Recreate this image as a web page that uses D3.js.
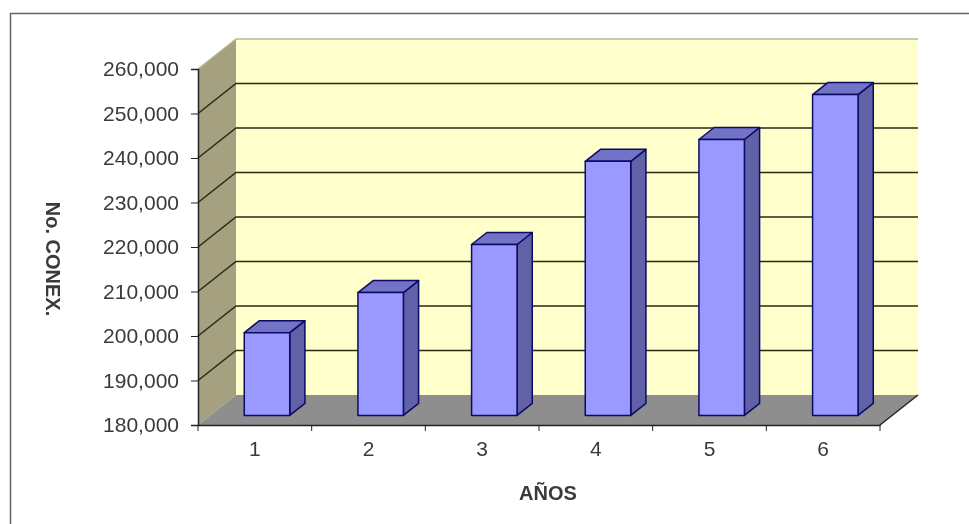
<!DOCTYPE html>
<html>
<head>
<meta charset="utf-8">
<script src="https://cdnjs.cloudflare.com/ajax/libs/d3/7.8.5/d3.min.js"></script>
<style>
  html, body { margin: 0; padding: 0; background: #fff; }
  text { font-family: "Liberation Sans", Arial, sans-serif; fill: #3a3a3a; }
  svg { display: block; filter: blur(0.45px); }
</style>
</head>
<body>
<div id="chart"></div>
<script>
const years = ["1", "2", "3", "4", "5", "6"];
const connections = [198600, 207600, 218400, 237100, 242000, 252100];
const yTicks = [180000, 190000, 200000, 210000, 220000, 230000, 240000, 250000, 260000];

const width = 969;
const height = 524;

// depth of the 3d box, in pixels
const depthX = 38;
const depthY = 30;
// front and back of a bar, as a share of the box depth
const barFront = 0.32;
const barBack = 0.72;

const svg = d3.select("#chart").append("svg")
    .attr("width", width)
    .attr("height", height);

const x = d3.scaleBand().domain(years).range([198, 880]).paddingInner(0.6).paddingOuter(0.3);
const y = d3.scaleLinear().domain([180000, 260000]).range([425, 69]);
const [yMin, yMax] = y.domain();
const [xMin, xMax] = x.range();

// px, py are front plane pixels, d is depth from 0 (front) to 1 (back)
const pt = (px, py, d) => [px + depthX * d, py - depthY * d];
const poly = pts => "M" + pts.map(p => p.join(",")).join("L") + "Z";

// outer frame, only top and left show in the picture
svg.append("path")
    .attr("d", `M10.5,${height}V13.5H${width}`)
    .attr("fill", "none")
    .attr("stroke", "#666")
    .attr("stroke-width", 1.5);

// walls and floor
svg.append("path")
    .attr("d", poly([pt(xMin, y(yMin), 1), pt(xMax, y(yMin), 1), pt(xMax, y(yMax), 1), pt(xMin, y(yMax), 1)]))
    .attr("fill", "#ffffcc");

svg.append("path")
    .attr("d", poly([pt(xMin, y(yMin), 0), pt(xMin, y(yMin), 1), pt(xMin, y(yMax), 1), pt(xMin, y(yMax), 0)]))
    .attr("fill", "#a5a07f");

svg.append("path")
    .attr("d", poly([pt(xMin, y(yMin), 0), pt(xMax, y(yMin), 0), pt(xMax, y(yMin), 1), pt(xMin, y(yMin), 1)]))
    .attr("fill", "#8e8e8e");

// gridlines run over the side wall and then the back wall
svg.append("g").selectAll("path")
  .data(yTicks.filter(d => d > yMin))
  .join("path")
    .attr("d", d => "M" + [pt(xMin, y(d), 0), pt(xMin, y(d), 1), pt(xMax, y(d), 1)].map(p => p.join(",")).join("L"))
    .attr("fill", "none")
    .attr("stroke", d => d === yMax ? "#b9b894" : "#2a2a14")
    .attr("stroke-width", 1.5);

svg.append("path")
    .attr("d", "M" + pt(xMax, y(yMin), 0).join(",") + "L" + pt(xMax, y(yMin), 1).join(","))
    .attr("stroke", "#222")
    .attr("stroke-width", 1.5);

// bars
const bar = svg.append("g").selectAll("g")
  .data(years.map((year, i) => ({ year, value: connections[i] })))
  .join("g")
    .attr("stroke", "#0b0b66")
    .attr("stroke-width", 1.5)
    .attr("stroke-linejoin", "round");

const x0 = d => x(d.year);
const x1 = d => x(d.year) + x.bandwidth();

bar.append("path")
    .attr("fill", "#6161a8")
    .attr("d", d => poly([pt(x1(d), y(yMin), barFront), pt(x1(d), y(yMin), barBack), pt(x1(d), y(d.value), barBack), pt(x1(d), y(d.value), barFront)]));

bar.append("path")
    .attr("fill", "#7272c6")
    .attr("d", d => poly([pt(x0(d), y(d.value), barFront), pt(x1(d), y(d.value), barFront), pt(x1(d), y(d.value), barBack), pt(x0(d), y(d.value), barBack)]));

bar.append("path")
    .attr("fill", "#9999ff")
    .attr("d", d => poly([pt(x0(d), y(yMin), barFront), pt(x1(d), y(yMin), barFront), pt(x1(d), y(d.value), barFront), pt(x0(d), y(d.value), barFront)]));

// axes
const yAxis = svg.append("g")
    .attr("transform", `translate(${xMin},0)`)
    .call(d3.axisLeft(y).tickValues(yTicks).tickFormat(d3.format(",")).tickSize(7).tickPadding(12));
yAxis.selectAll("text").attr("font-size", 21).attr("font-family", null);

const xAxis = svg.append("g")
    .attr("transform", `translate(0,${y(yMin)})`)
    .call(d3.axisBottom(x).tickSize(0).tickPadding(16));
xAxis.selectAll("text").attr("font-size", 21).attr("font-family", null);

// x ticks sit between the categories
xAxis.selectAll(".edge")
  .data(d3.range(years.length + 1))
  .join("line")
    .attr("class", "edge")
    .attr("x1", i => xMin + i * x.step())
    .attr("x2", i => xMin + i * x.step())
    .attr("y2", 6)
    .attr("stroke", "#222");

svg.selectAll(".domain").attr("stroke", "#222").attr("stroke-width", 1.5);
svg.selectAll(".tick line").attr("stroke", "#222");

// axis titles
svg.append("text")
    .attr("transform", "translate(46,259) rotate(90)")
    .attr("text-anchor", "middle")
    .attr("font-size", 20)
    .attr("font-weight", "bold")
    .text("No. CONEX.");

svg.append("text")
    .attr("x", 548)
    .attr("y", 500)
    .attr("text-anchor", "middle")
    .attr("font-size", 20)
    .attr("font-weight", "bold")
    .text("AÑOS");
</script>
</body>
</html>
